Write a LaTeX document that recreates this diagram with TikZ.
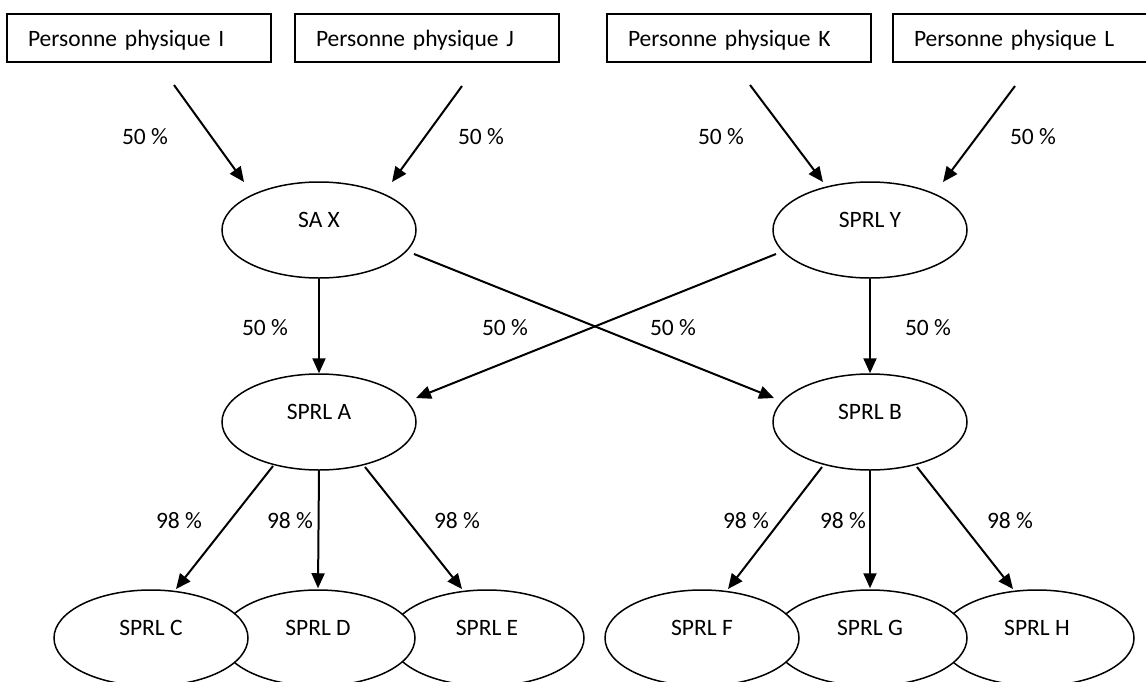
\documentclass[tikz,border=0pt]{standalone}
\usepackage{fontspec}
\setmainfont{Carlito}
\usetikzlibrary{shapes.geometric,arrows.meta}
\begin{document}
\begin{tikzpicture}[x=1pt,y=-1pt,
  font=\fontsize{23.5}{28}\selectfont,
  pbox/.style={draw, line width=1.5pt, minimum height=48pt, text width=222pt,
    inner xsep=21pt, inner ysep=0pt, align=left, text depth=0pt},
  ell/.style={draw, fill=white, ellipse, line width=1.5pt, minimum width=194pt,
    minimum height=96pt, inner sep=0pt},
  arr/.style={line width=2pt, -{Triangle[length=15pt,width=13pt]}},
  pct/.style={inner sep=0pt}]
\useasboundingbox (0,0) rectangle (1146,681);
\clip (0,0) rectangle (1146,681);

% top boxes
\node[pbox] (I) at (139,38) {Personne physique I};
\node[pbox] (J) at (427,38) {Personne physique J};
\node[pbox] (K) at (739,38) {Personne physique K};
\node[pbox] (L) at (1025,38) {Personne physique L};

% ellipses
\node[ell, label={[yshift=10pt]center:SA X}] (X) at (319,230) {};
\node[ell, label={[yshift=10pt]center:SPRL Y}] (Y) at (870,230) {};
\node[ell, label={[yshift=10pt]center:SPRL A}] (A) at (319,422) {};
\node[ell, label={[yshift=10pt]center:SPRL B}] (B) at (870,422) {};

\node[ell, label={[yshift=10pt]center:SPRL E}] (E) at (487,638) {};
\node[ell, label={[yshift=10pt]center:SPRL D}] (D) at (318,638) {};
\node[ell, label={[yshift=10pt]center:SPRL C}] (C) at (151,638) {};
\node[ell, label={[yshift=10pt]center:SPRL H}] (H) at (1037,638) {};
\node[ell, label={[yshift=10pt]center:SPRL G}] (G) at (870,638) {};
\node[ell, label={[yshift=10pt]center:SPRL F}] (F) at (702,638) {};

% arrow end points
\coordinate (iS) at (174,85);  \coordinate (iT) at (244,182);
\coordinate (jS) at (462,86);  \coordinate (jT) at (392,182);
\coordinate (kS) at (750,85);  \coordinate (kT) at (823,182);
\coordinate (lS) at (1015,86); \coordinate (lT) at (943,182);
\coordinate (xbS) at (414,254); \coordinate (xbT) at (774,398);
\coordinate (yaS) at (776,254); \coordinate (yaT) at (416,398);
\coordinate (acS) at (273,466); \coordinate (acT) at (176,589);
\coordinate (aeS) at (365,467); \coordinate (aeT) at (462,589);
\coordinate (bfS) at (822,467); \coordinate (bfT) at (728,589);
\coordinate (bhS) at (917,467); \coordinate (bhT) at (1013,589);

\draw[arr] (iS) -- (iT);
\draw[arr] (jS) -- (jT);
\draw[arr] (kS) -- (kT);
\draw[arr] (lS) -- (lT);
\draw[arr] (X.south) -- (A.north);
\draw[arr] (Y.south) -- (B.north);
\draw[arr] (xbS) -- (xbT);
\draw[arr] (yaS) -- (yaT);
\draw[arr] (acS) -- (acT);
\draw[arr] (A.south) -- ([yshift=1pt]D.north);
\draw[arr] (aeS) -- (aeT);
\draw[arr] (bfS) -- (bfT);
\draw[arr] (B.south) -- ([yshift=1pt]G.north);
\draw[arr] (bhS) -- (bhT);

% labels
\node[pct] (p1) at (145,137) {50 \%};
\node[pct] (p2) at (481,137) {50 \%};
\node[pct] (p3) at (721,137) {50 \%};
\node[pct] (p4) at (1033,137) {50 \%};
\node[pct] (p5) at (265,328) {50 \%};
\node[pct] (p6) at (505,328) {50 \%};
\node[pct] (p7) at (673,328) {50 \%};
\node[pct] (p8) at (928,328) {50 \%};
\node[pct] (q1) at (179,521) {98 \%};
\node[pct] (q2) at (290,521) {98 \%};
\node[pct] (q3) at (457,521) {98 \%};
\node[pct] (q4) at (746,521) {98 \%};
\node[pct] (q5) at (843,521) {98 \%};
\node[pct] (q6) at (1010,521) {98 \%};
\end{tikzpicture}
\end{document}
